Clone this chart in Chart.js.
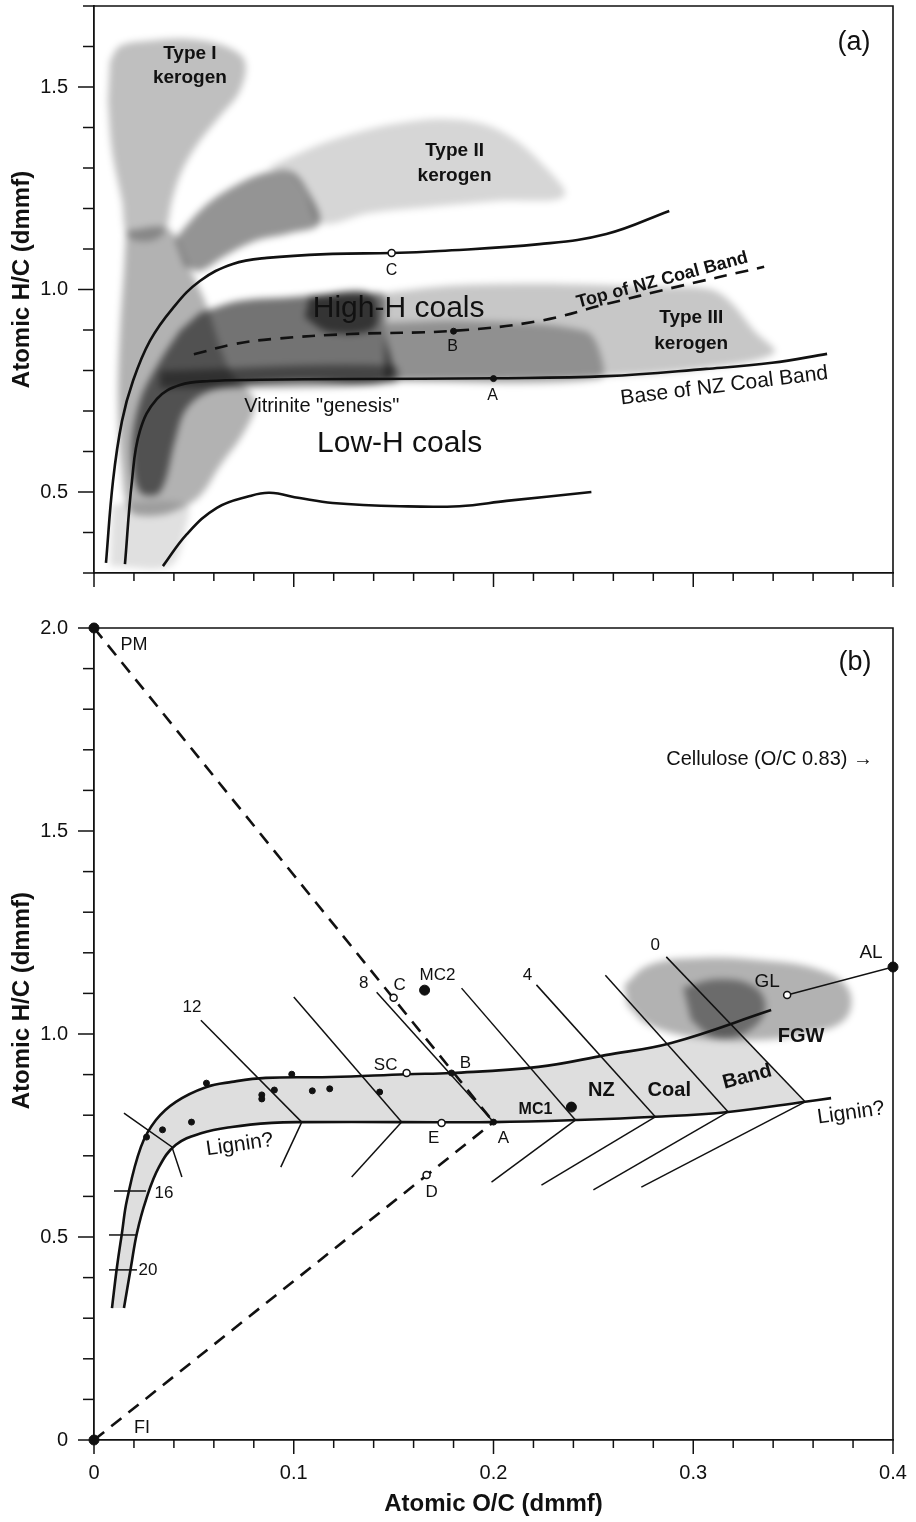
<!DOCTYPE html>
<html><head><meta charset="utf-8">
<script src="https://cdn.jsdelivr.net/npm/chart.js@4.4.1/dist/chart.umd.min.js"></script>
<style>
html,body{margin:0;padding:0;background:#fff;width:916px;height:1522px;overflow:hidden}
.wrap{position:absolute;left:0;width:916px}
canvas{position:absolute;left:0;top:0}
.shade{filter:blur(3.5px)}
</style></head><body>
<div class="wrap" style="top:0;height:600px">
 <canvas id="aShade" width="916" height="600" class="shade"></canvas>
 <canvas id="aMain" width="916" height="600"></canvas>
</div>
<div class="wrap" style="top:600px;height:922px">
 <canvas id="bShade" width="916" height="922" class="shade"></canvas>
 <canvas id="bMain" width="916" height="922"></canvas>
</div>
<script>
// ---------- Panel (a) data ----------
const aCurveUpper = [[0.006,0.325],[0.0095,0.527],[0.014,0.675],[0.0195,0.774],[0.028,0.873],[0.0395,0.954],[0.053,1.021],[0.0695,1.063],[0.0865,1.078],[0.1195,1.088],[0.149,1.09],[0.173,1.095],[0.223,1.112],[0.2565,1.137],[0.288,1.194]];
const aCurveBase = [[0.0155,0.322],[0.019,0.527],[0.023,0.651],[0.0315,0.73],[0.043,0.764],[0.058,0.774],[0.083,0.777],[0.128,0.779],[0.2,0.781],[0.2565,0.786],[0.3065,0.804],[0.3395,0.819],[0.367,0.841]];
const aCurveLower = [[0.0345,0.317],[0.0465,0.396],[0.0615,0.461],[0.078,0.49],[0.088,0.498],[0.103,0.485],[0.1195,0.473],[0.153,0.465],[0.183,0.465],[0.2065,0.478],[0.249,0.5]];
const aTopDashed = [[0.05,0.84],[0.07,0.865],[0.09,0.878],[0.128,0.89],[0.18,0.898],[0.2225,0.922],[0.2565,0.964],[0.2895,1.004],[0.3355,1.056]];
const aPointsFilled = [[0.2,0.78],[0.18,0.897]];
const aPointsOpen = [[0.149,1.09]];
// shaded fields (a)
const aTypeI = [[0.008,1.564],[0.013,1.601],[0.028,1.614],[0.048,1.618],[0.0655,1.601],[0.0755,1.564],[0.073,1.49],[0.063,1.428],[0.053,1.367],[0.044,1.293],[0.039,1.219],[0.0355,1.144],[0.028,1.12],[0.017,1.132],[0.014,1.219],[0.009,1.342],[0.007,1.465]];
const aLeftFan = [[0.016,1.145],[0.037,1.15],[0.046,1.07],[0.0555,0.972],[0.068,0.799],[0.0805,0.725],[0.0755,0.651],[0.063,0.564],[0.053,0.49],[0.0405,0.453],[0.028,0.441],[0.018,0.453],[0.014,0.552],[0.012,0.725],[0.013,0.898],[0.015,1.046]];
const aLowLeft = [[0.009,0.47],[0.046,0.47],[0.0455,0.404],[0.038,0.317],[0.008,0.317]];
const aWedge = [[0.0405,1.125],[0.0555,1.206],[0.0705,1.256],[0.0855,1.288],[0.098,1.293],[0.1055,1.256],[0.113,1.164],[0.098,1.139],[0.0805,1.12],[0.0655,1.083],[0.053,1.046],[0.0455,1.058]];
const aTypeII = [[0.0865,1.3],[0.103,1.337],[0.118,1.367],[0.138,1.396],[0.153,1.411],[0.173,1.421],[0.193,1.411],[0.208,1.379],[0.223,1.317],[0.2355,1.231],[0.203,1.219],[0.168,1.204],[0.138,1.189],[0.113,1.164],[0.1055,1.243],[0.098,1.293]];
const aDarkBand = [[0.053,0.942],[0.073,0.972],[0.098,0.981],[0.118,0.989],[0.138,0.991],[0.1455,0.984],[0.1455,0.898],[0.148,0.779],[0.103,0.774],[0.073,0.764],[0.0555,0.744],[0.0455,0.7],[0.0405,0.626],[0.033,0.5],[0.023,0.5],[0.019,0.601],[0.023,0.725],[0.033,0.823],[0.043,0.898]];
const aCore1 = [[0.108,0.984],[0.138,0.991],[0.1405,0.906],[0.118,0.894],[0.1055,0.931]];
const aCore2 = [[0.033,0.799],[0.1505,0.811],[0.1505,0.769],[0.033,0.756]];
const aTypeIII = [[0.1455,0.991],[0.178,1.009],[0.218,1.014],[0.253,1.011],[0.283,1.006],[0.308,1.001],[0.318,0.972],[0.3305,0.898],[0.3405,0.843],[0.303,0.804],[0.253,0.786],[0.203,0.779],[0.1455,0.774]];
const aDotted = [[0.1455,0.917],[0.188,0.922],[0.2455,0.898],[0.253,0.849],[0.253,0.779],[0.1455,0.774]];

// ---------- Panel (b) data ----------
const bBandUpper = [[0.009,0.325],[0.0115,0.426],[0.014,0.51],[0.0165,0.591],[0.0235,0.722],[0.031,0.788],[0.041,0.833],[0.056,0.869],[0.069,0.882],[0.086,0.892],[0.119,0.894],[0.1565,0.901],[0.179,0.904],[0.2225,0.919],[0.256,0.948],[0.289,0.978],[0.339,1.059]];
const bBandLower = [[0.015,0.325],[0.0185,0.426],[0.0215,0.51],[0.026,0.591],[0.0325,0.672],[0.041,0.727],[0.054,0.756],[0.069,0.771],[0.089,0.781],[0.104,0.783],[0.154,0.783],[0.2,0.783],[0.241,0.788],[0.281,0.796],[0.3175,0.808],[0.356,0.833],[0.369,0.842]];
const bBandCorner = [[0.318,1.027],[0.356,0.833]];
const bIsoUpper = [[[0.0535,1.034],[0.104,0.783]],[[0.1,1.091],[0.154,0.783]],[[0.1415,1.103],[0.2,0.783]],[[0.184,1.113],[0.241,0.788]],[[0.2215,1.121],[0.281,0.796]],[[0.256,1.145],[0.3175,0.808]],[[0.2865,1.19],[0.356,0.833]]];
const bIsoLower = [[[0.104,0.783],[0.0935,0.672]],[[0.154,0.783],[0.129,0.648]],[[0.241,0.788],[0.199,0.635]],[[0.281,0.796],[0.224,0.628]],[[0.3175,0.808],[0.25,0.616]],[[0.356,0.833],[0.274,0.623]]];
const bIsoKink = [[0.015,0.805],[0.039,0.722],[0.044,0.648]];
const bRankTicks = [[[0.01,0.613],[0.026,0.613]],[[0.0075,0.505],[0.021,0.505]],[[0.0075,0.419],[0.0215,0.419]]];
const bDashPM = [[0,2.0],[0.2,0.783]];
const bDashFI = [[0,0],[0.2,0.783]];
const bGLAL = [[0.347,1.096],[0.4,1.165]];
const bCoalPoints = [[0.0563,0.879],[0.084,0.85],[0.084,0.84],[0.0903,0.862],[0.099,0.901],[0.1093,0.86],[0.118,0.865],[0.143,0.857],[0.0488,0.783],[0.0343,0.764],[0.0263,0.746],[0.179,0.904],[0.2,0.783]];
const bBigPoints = [[0.1655,1.108],[0.239,0.82],[0,2.0],[0,0],[0.4,1.165]];
const bOpenPoints = [[0.15,1.089],[0.1565,0.904],[0.174,0.781],[0.1665,0.653],[0.347,1.096]];
const bFGWouter = [[0.2655,1.121],[0.278,1.17],[0.303,1.187],[0.333,1.182],[0.363,1.158],[0.378,1.108],[0.3755,1.034],[0.353,0.998],[0.333,0.985],[0.303,0.99],[0.278,1.022],[0.267,1.071]];
const bFGWcore = [[0.295,1.115],[0.313,1.135],[0.331,1.115],[0.336,1.059],[0.326,1.003],[0.3105,0.992],[0.299,1.034]];

// tick label values
const xTickLabels = [0, 0.1, 0.2, 0.3, 0.4];
const yTickLabelsA = [0.5, 1.0, 1.5];
const yTickLabelsB = [0, 0.5, 1.0, 1.5, 2.0];

const FONT = '"Liberation Sans", Arial, Helvetica, sans-serif';
const INK = '#111';
const P = a => a.map(([x,y]) => ({x,y}));
const isMult = (v, s) => Math.abs(v/s - Math.round(v/s)) < 1e-6;
const inList = (v, list) => list.some(t => Math.abs(t - v) < 1e-6);
const fmt = v => Math.abs(v) < 1e-9 ? '0' : v.toFixed(1);

function line(data, w, dash, order, tension) {
  return {type:'line', data:P(data), showLine:true, borderColor:INK, borderWidth:w, borderDash:dash||[],
    pointRadius:0, fill:false, tension:tension||0, order:order||5, borderCapStyle:'butt'};
}
function poly(data, color, tension) {
  return {type:'line', data:P(data), showLine:true, borderWidth:0, borderColor:'rgba(0,0,0,0)',
    backgroundColor:color, fill:'shape', pointRadius:0, tension:tension===undefined?0.35:tension, order:10};
}
function pts(data, r, open) {
  return {type:'scatter', data:P(data), pointRadius:r, pointHoverRadius:r, showLine:false, clip:false,
    pointBackgroundColor: open ? '#fff' : INK, pointBorderColor:INK, pointBorderWidth: open?1.5:1, order:1};
}

function scales(p, shade) {
  const col = shade ? 'rgba(0,0,0,0)' : INK;
  return {
    x: {type:'linear', min:0, max:0.4,
      ticks:{stepSize:0.02, autoSkip:false, maxRotation:0, display:p.xLabels, color:col,
        font:{family:FONT, size:20}, padding:21,
        callback:v => inList(v, xTickLabels) ? fmt(v) : ''},
      grid:{display:true, drawOnChartArea:false, drawTicks:false},
      border:{display:true, color:col, width:1.8},
      title:{display:p.xTitle, text:'Atomic O/C (dmmf)', color:col,
        font:{family:FONT, size:24, weight:'bold'}, padding:{top:0, bottom:3}},
      afterFit:s => {s.height = p.xH; s.paddingLeft=0; s.paddingRight=0; s.paddingTop=0; s.paddingBottom=0;}
    },
    y: {type:'linear', min:p.yMin, max:p.yMax,
      ticks:{stepSize:0.1, autoSkip:false, color:col, font:{family:FONT, size:20}, padding:26,
        callback:v => inList(v, p.yLabels) ? fmt(v) : ''},
      grid:{display:true, drawOnChartArea:false, drawTicks:false},
      border:{display:true, color:col, width:1.8},
      title:{display:true, text:p.yTitle, color:col,
        font:{family:FONT, size:24, weight:'bold'}, padding:{top:8, bottom:0}},
      afterFit:s => {s.width = 94; s.paddingLeft=0; s.paddingRight=0; s.paddingTop=0; s.paddingBottom=0;}
    }
  };
}

function decor(cfg) {
  return {
    id:'decor',
    afterDatasetsDraw(chart) {
      const ctx = chart.ctx, xs = chart.scales.x, ys = chart.scales.y, ca = chart.chartArea;
      ctx.save();
      ctx.strokeStyle = INK; ctx.lineWidth = 1.6;
      ctx.beginPath(); ctx.moveTo(ca.left, ca.top); ctx.lineTo(ca.right, ca.top); ctx.lineTo(ca.right, ca.bottom); ctx.stroke();
      ctx.lineWidth = 1.5;
      xs.ticks.forEach(t => {
        const px = xs.getPixelForValue(t.value), L = isMult(t.value, 0.1) ? 14 : 8;
        ctx.beginPath(); ctx.moveTo(px, ca.bottom); ctx.lineTo(px, ca.bottom + L); ctx.stroke();
      });
      ys.ticks.forEach(t => {
        const py = ys.getPixelForValue(t.value), L = isMult(t.value, 0.5) ? 16 : 11;
        ctx.beginPath(); ctx.moveTo(ca.left, py); ctx.lineTo(ca.left - L, py); ctx.stroke();
      });
      cfg.labels.forEach(l => {
        ctx.save();
        ctx.translate(xs.getPixelForValue(l.x), ys.getPixelForValue(l.y));
        if (l.r) ctx.rotate(l.r * Math.PI / 180);
        ctx.font = (l.b ? 'bold ' : '') + (l.s || 17) + 'px ' + FONT;
        ctx.fillStyle = INK; ctx.textAlign = l.al || 'center'; ctx.textBaseline = 'middle';
        ctx.fillText(l.t, 0, 0);
        ctx.restore();
      });
      ctx.restore();
    }
  };
}

const labelsA = [
  {t:'(a)', x:0.3805, y:1.609, s:27},
  {t:'Type I', x:0.048, y:1.581, s:19, b:1},
  {t:'kerogen', x:0.048, y:1.522, s:19, b:1},
  {t:'Type II', x:0.1805, y:1.342, s:19, b:1},
  {t:'kerogen', x:0.1805, y:1.28, s:19, b:1},
  {t:'C', x:0.149, y:1.046, s:16},
  {t:'High-H coals', x:0.1525, y:0.952, s:30},
  {t:'Top of NZ Coal Band', x:0.2845, y:1.023, s:18, b:1, r:-15},
  {t:'Type III', x:0.299, y:0.93, s:19, b:1},
  {t:'kerogen', x:0.299, y:0.865, s:19, b:1},
  {t:'B', x:0.1795, y:0.858, s:16},
  {t:'A', x:0.1995, y:0.737, s:16},
  {t:'Base of NZ Coal Band', x:0.3155, y:0.762, s:21, r:-7},
  {t:'Vitrinite "genesis"', x:0.114, y:0.712, s:20},
  {t:'Low-H coals', x:0.153, y:0.619, s:30}
];
const labelsB = [
  {t:'PM', x:0.02, y:1.958, s:18},
  {t:'FI', x:0.024, y:0.03, s:18},
  {t:'(b)', x:0.381, y:1.916, s:27},
  {t:'Cellulose (O/C 0.83) \u2192', x:0.39, y:1.675, s:20, al:'right'},
  {t:'12', x:0.049, y:1.066},
  {t:'8', x:0.135, y:1.126},
  {t:'C', x:0.153, y:1.121},
  {t:'MC2', x:0.172, y:1.145},
  {t:'4', x:0.217, y:1.145},
  {t:'0', x:0.281, y:1.219},
  {t:'GL', x:0.337, y:1.128, s:19},
  {t:'AL', x:0.389, y:1.2, s:19},
  {t:'SC', x:0.146, y:0.924},
  {t:'B', x:0.186, y:0.929},
  {t:'NZ', x:0.254, y:0.862, s:20, b:1},
  {t:'Coal', x:0.288, y:0.862, s:20, b:1},
  {t:'Band', x:0.327, y:0.894, s:20, b:1, r:-15},
  {t:'FGW', x:0.354, y:0.993, s:20, b:1},
  {t:'MC1', x:0.221, y:0.813, s:16, b:1},
  {t:'E', x:0.17, y:0.744},
  {t:'A', x:0.205, y:0.744},
  {t:'D', x:0.169, y:0.611},
  {t:'Lignin?', x:0.073, y:0.727, s:21, r:-8},
  {t:'Lignin?', x:0.379, y:0.805, s:21, r:-8},
  {t:'16', x:0.035, y:0.608},
  {t:'20', x:0.027, y:0.419}
];

const NB = '\u00a0';
const panelA = {yMin:0.3, yMax:1.7, yLabels:yTickLabelsA, xLabels:false, xTitle:false, xH:27,
  yTitle: NB.repeat(3) + 'Atomic H/C (dmmf)', pad:{top:6, right:23, left:0, bottom:0}};
const panelB = {yMin:0, yMax:2.0, yLabels:yTickLabelsB, xLabels:true, xTitle:true, xH:82,
  yTitle: NB.repeat(10) + 'Atomic H/C (dmmf)', pad:{top:28, right:23, left:0, bottom:0}};

function makeChart(id, p, shade, datasets, plugins) {
  return new Chart(document.getElementById(id), {
    type:'scatter',
    data:{datasets},
    options:{responsive:false, animation:false, devicePixelRatio:1,
      layout:{padding:p.pad},
      plugins:{legend:{display:false}, tooltip:{enabled:false}},
      events:[],
      scales:scales(p, shade)},
    plugins: plugins || []
  });
}

// ---- Panel (a) ----
makeChart('aShade', panelA, true, [
  poly(aTypeI, 'rgba(0,0,0,0.25)'),
  poly(aTypeII, 'rgba(0,0,0,0.16)'),
  poly(aLeftFan, 'rgba(0,0,0,0.3)'),
  poly(aLowLeft, 'rgba(0,0,0,0.12)'),
  poly(aWedge, 'rgba(0,0,0,0.42)'),
  poly(aTypeIII, 'rgba(0,0,0,0.22)'),
  poly(aDotted, 'rgba(0,0,0,0.28)'),
  poly(aDarkBand, 'rgba(0,0,0,0.55)'),
  poly(aCore1, 'rgba(0,0,0,0.55)'),
  poly(aCore2, 'rgba(0,0,0,0.4)')
]);
makeChart('aMain', panelA, false, [
  line(aCurveUpper, 2.6, null, 5, 0.4),
  line(aCurveBase, 2.6, null, 5, 0.4),
  line(aCurveLower, 2.6, null, 5, 0.4),
  line(aTopDashed, 2.6, [13,9], 5, 0.4),
  pts(aPointsFilled, 3, false),
  pts(aPointsOpen, 3.5, true)
], [decor({labels:labelsA})]);

// ---- Panel (b) ----
makeChart('bShade', panelB, true, [
  poly(bFGWouter, 'rgba(0,0,0,0.3)', 0.4),
  poly(bFGWcore, 'rgba(0,0,0,0.4)', 0.4)
]);
const bBandFill = [...bBandUpper.filter(q => q[0] <= 0.29), ...bBandCorner, ...bBandLower.filter(q => q[0] <= 0.3175).reverse()];
const bDatasets = [
  poly(bBandFill, 'rgba(0,0,0,0.13)', 0),
  line(bBandUpper, 2.6, null, 5, 0.4),
  line(bBandLower, 2.6, null, 5, 0.4),
  line(bDashPM, 2.6, [13,9], 4),
  line(bDashFI, 2.6, [13,9], 4),
  line(bGLAL, 1.5, null, 4),
  line(bIsoKink, 1.5, null, 4),
  pts(bCoalPoints, 3, false),
  pts(bBigPoints, 5, false),
  pts(bOpenPoints, 3.5, true)
];
bIsoUpper.forEach(s => bDatasets.push(line(s, 1.5, null, 4)));
bIsoLower.forEach(s => bDatasets.push(line(s, 1.5, null, 4)));
bRankTicks.forEach(s => bDatasets.push(line(s, 1.5, null, 4)));
makeChart('bMain', panelB, false, bDatasets, [decor({labels:labelsB})]);
</script>
</body></html>
